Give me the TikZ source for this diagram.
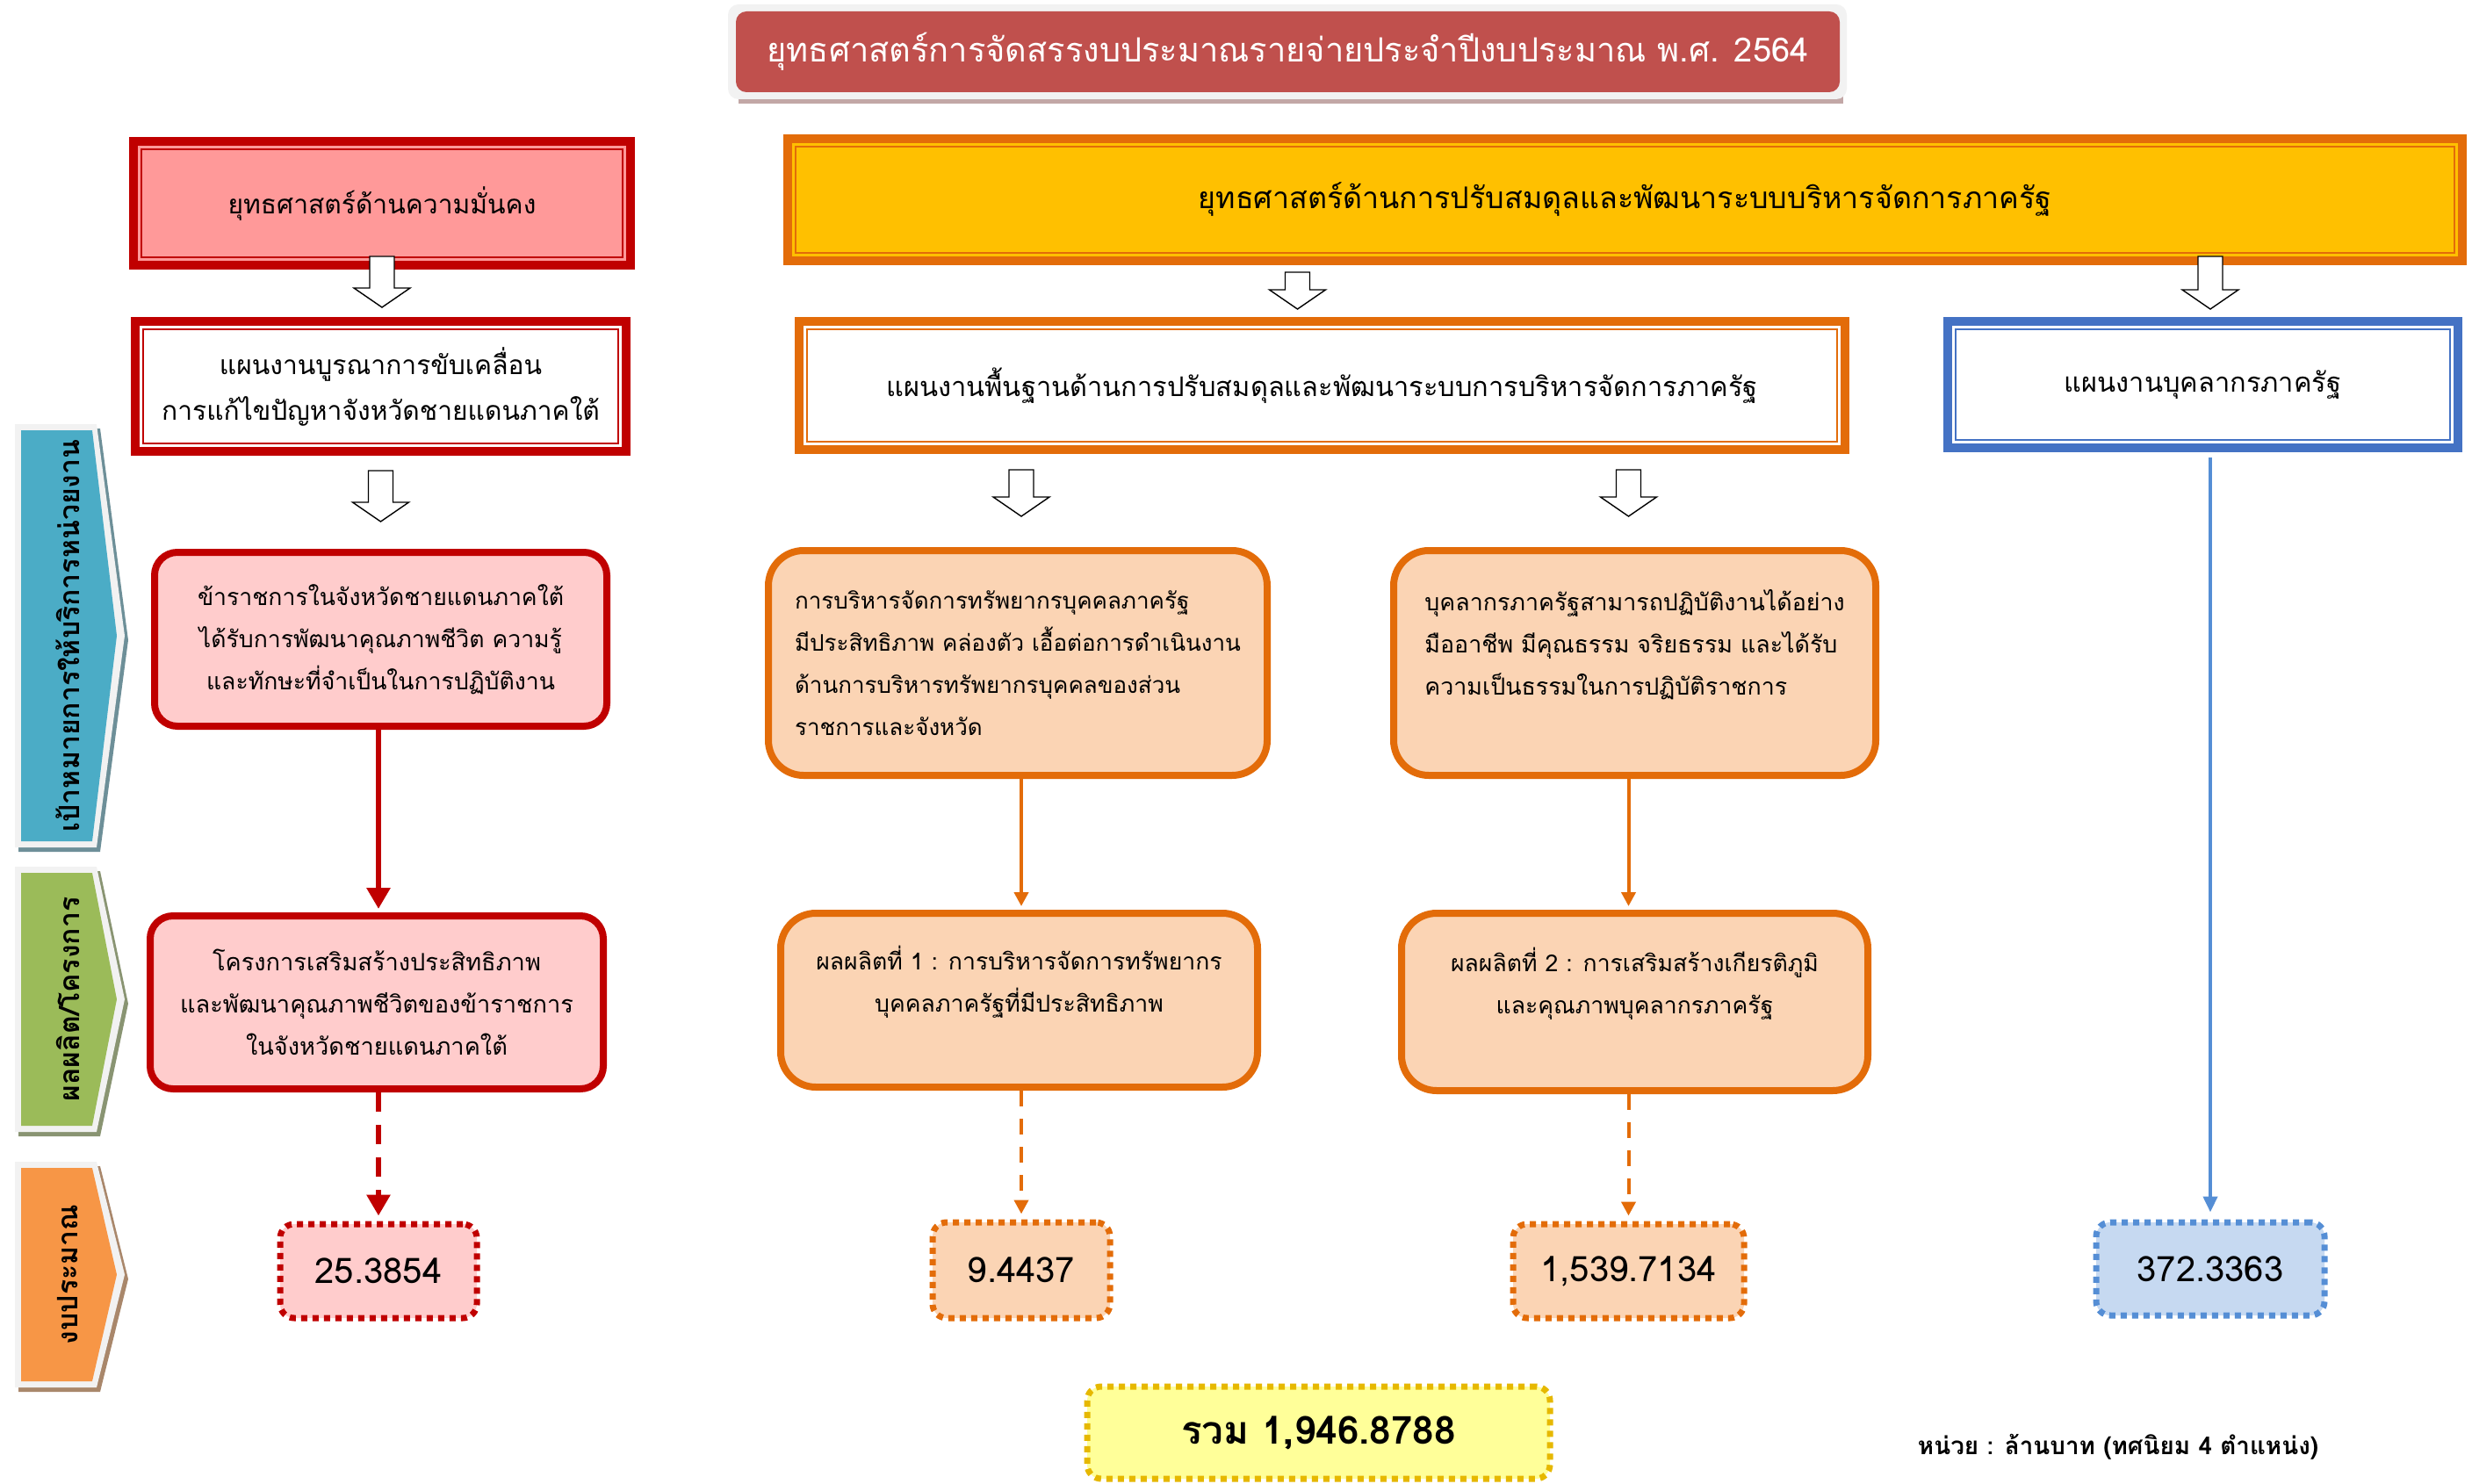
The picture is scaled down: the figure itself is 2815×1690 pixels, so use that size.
\documentclass[tikz,border=0pt]{standalone}
\usepackage{fontspec}
\setmainfont[Script=Thai]{Loma}
\usetikzlibrary{arrows.meta,calc}
\definecolor{titlered}{HTML}{C0504D}
\definecolor{dred}{HTML}{C00000}
\definecolor{secfill}{HTML}{FF9999}
\definecolor{pinkfill}{HTML}{FFCCCC}
\definecolor{hdryel}{HTML}{FFC000}
\definecolor{dorange}{HTML}{E36C09}
\definecolor{peach}{HTML}{FBD4B4}
\definecolor{dblue}{HTML}{4472C4}
\definecolor{lblue}{HTML}{558ED5}
\definecolor{bluefill}{HTML}{C6D9F1}
\definecolor{totfill}{HTML}{FFFF99}
\definecolor{totborder}{HTML}{E6B800}
\definecolor{chevblue}{HTML}{4BACC6}
\definecolor{chevgreen}{HTML}{9BBB59}
\definecolor{chevorange}{HTML}{F79646}
\definecolor{framegray}{HTML}{F2F2F2}
\tikzset{
  dblbox/.style={draw=#1, line width=5pt,
    path picture={\draw[#1, line width=1pt] ([shift={(4.5pt,4.5pt)}]path picture bounding box.south west) rectangle ([shift={(-4.5pt,-4.5pt)}]path picture bounding box.north east);}},
  plantext/.style={font=\fontsize{15}{26}\selectfont, align=center},
  rbox/.style={draw=dred, line width=4pt, fill=pinkfill, rounded corners=13pt, align=center, font=\fontsize{13.3}{24}\selectfont},
  obox/.style={draw=dorange, line width=4pt, fill=peach, rounded corners=20pt, font=\fontsize{13.3}{24}\selectfont},
  budget/.style={line width=3.5pt, dash pattern=on 3.5pt off 3pt, rounded corners=8pt, font=\fontsize{20}{22}\selectfont},
  hollowarr/.style={draw=black, line width=0.7pt, fill=white},
  redarr/.style={draw=dred, line width=3pt, -{Triangle[length=12pt,width=13pt]}},
  orarr/.style={draw=dorange, line width=2pt, -{Triangle[length=8pt,width=8pt]}},
  bluearr/.style={draw=lblue, line width=2pt, -{Triangle[length=9pt,width=8pt]}},
}
\newcommand\blockarr[2]{\path[hollowarr] let \p1=#1, \p2=#2 in
  (\x1-7pt,\y1) -- (\x1+7pt,\y1) -- (\x1+7pt,\y2+11pt) -- (\x1+16pt,\y2+11pt) -- (\x1,\y2) -- (\x1-16pt,\y2+11pt) -- (\x1-7pt,\y2+11pt) -- cycle;}
\newcommand\chev[5]{%
  \fill[#3!35!gray] (21,{#1-2}) -- (114,{#1-2}) -- (146,{(#1+#2)/2+5}) -- (114,{#2+12}) -- (21,{#2+12}) -- cycle;
  \fill[framegray] (17,{#1-7}) -- (110,{#1-7}) -- (142,{(#1+#2)/2}) -- (110,{#2+7}) -- (17,{#2+7}) -- cycle;
  \fill[#3] (24,#1) -- (105,#1) -- (133,{(#1+#2)/2}) -- (105,#2) -- (24,#2) -- cycle;
  \node[rotate=90, font=\bfseries\fontsize{16}{18}\selectfont] (#4) at (77,{(#1+#2)/2}) {#5};}
\begin{document}
\begin{tikzpicture}[x=0.5pt,y=-0.5pt]
\useasboundingbox[fill=white] (0,0) rectangle (2815,1690);
% title
\fill[gray!60!titlered!60] (841,13) rectangle (2099,118);
\fill[framegray, rounded corners=6pt] (829,5) rectangle (2103,113);
\node[fill=titlered, rounded corners=6pt, minimum width=628.5pt, minimum height=46pt,
  text=white, font=\fontsize{19}{22}\selectfont] (title) at (1466.5,59)
  {ยุทธศาสตร์การจัดสรรงบประมาณรายจ่ายประจำปีงบประมาณ พ.ศ. 2564};
% side chevrons
\chev{490}{958}{chevblue}{lblgoal}{เป้าหมายการให้บริการหน่วยงาน}
\chev{994}{1282}{chevgreen}{lblprod}{ผลผลิต/โครงการ}
\chev{1330}{1573}{chevorange}{lblbud}{งบประมาณ}
% strategies and plans
\node[dblbox=dred, fill=secfill, minimum width=283pt, minimum height=70.5pt, plantext] (sec) at (435,231.5) {ยุทธศาสตร์ด้านความมั่นคง};
\node[dblbox=dred, fill=white, minimum width=279.5pt, minimum height=74pt, plantext] (plan1) at (433.5,440) {แผนงานบูรณาการขับเคลื่อน\\การแก้ไขปัญหาจังหวัดชายแดนภาคใต้};
\node[dblbox=dorange, fill=hdryel, minimum width=953.5pt, minimum height=69.5pt, plantext, font=\fontsize{17}{20}\selectfont] (hdr) at (1850.5,227.5) {ยุทธศาสตร์ด้านการปรับสมดุลและพัฒนาระบบบริหารจัดการภาครัฐ};
\node[dblbox=dorange, fill=white, minimum width=595.5pt, minimum height=73pt, plantext, font=\fontsize{15.4}{20}\selectfont] (plan2) at (1505.5,439) {แผนงานพื้นฐานด้านการปรับสมดุลและพัฒนาระบบการบริหารจัดการภาครัฐ};
\node[dblbox=dblue, fill=white, minimum width=290.5pt, minimum height=72pt, plantext, font=\fontsize{15.4}{20}\selectfont] (planb) at (2508.5,438) {แผนงานบุคลากรภาครัฐ};
% goals
\node[rbox, minimum width=257.5pt, minimum height=99pt] (goal1) at (433.5,728) {ข้าราชการในจังหวัดชายแดนภาคใต้\\ได้รับการพัฒนาคุณภาพชีวิต ความรู้\\และทักษะที่จำเป็นในการปฏิบัติงาน};
\node[obox, align=left, minimum width=284pt, minimum height=128pt, font=\fontsize{13}{24}\selectfont] (goal2) at (1159,755) {การบริหารจัดการทรัพยากรบุคคลภาครัฐ\\มีประสิทธิภาพ คล่องตัว เอื้อต่อการดำเนินงาน\\ด้านการบริหารทรัพยากรบุคคลของส่วน\\ราชการและจังหวัด};
\node[obox, align=left, minimum width=274.5pt, minimum height=128pt, font=\fontsize{13.4}{24}\selectfont] (goal3) at (1861.5,755) {บุคลากรภาครัฐสามารถปฏิบัติงานได้อย่าง\\มืออาชีพ มีคุณธรรม จริยธรรม และได้รับ\\ความเป็นธรรมในการปฏิบัติราชการ\\\mbox{}};
% products
\node[rbox, minimum width=258pt, minimum height=98.5pt, font=\fontsize{13.6}{24}\selectfont] (prod1) at (429,1141.5) {โครงการเสริมสร้างประสิทธิภาพ\\และพัฒนาคุณภาพชีวิตของข้าราชการ\\ในจังหวัดชายแดนภาคใต้};
\node[obox, align=center, minimum width=271.5pt, minimum height=99pt] (prod2) at (1160.5,1139) {ผลผลิตที่ 1 : การบริหารจัดการทรัพยากร\\บุคคลภาครัฐที่มีประสิทธิภาพ\\\mbox{}};
\node[obox, align=center, minimum width=265.5pt, minimum height=101pt] (prod3) at (1861.5,1141) {ผลผลิตที่ 2 : การเสริมสร้างเกียรติภูมิ\\และคุณภาพบุคลากรภาครัฐ\\\mbox{}};
% budgets
\node[budget, draw=dred, fill=pinkfill, minimum width=112pt, minimum height=53.5pt] (b1) at (431,1447.5) {25.3854};
\node[budget, draw=dorange, fill=peach, minimum width=101pt, minimum height=54.5pt] (b2) at (1163,1446.5) {9.4437};
\node[budget, draw=dorange, fill=peach, minimum width=131.5pt, minimum height=53.5pt] (b3) at (1854.5,1447.5) {1,539.7134};
\node[budget, draw=lblue, fill=bluefill, minimum width=130pt, minimum height=53pt] (b4) at (2517,1445) {372.3363};
\node[budget, draw=totborder, fill=totfill, minimum width=263.5pt, minimum height=52.5pt, font=\bfseries\fontsize{22}{24}\selectfont] (total) at (1501.5,1631.5) {รวม 1,946.8788};
\node[font=\bfseries\fontsize{13.9}{15}\selectfont] (unit) at (2412,1648) {หน่วย : ล้านบาท (ทศนิยม 4 ตำแหน่ง)};
% block arrows
\blockarr{($(sec.south)+(0,7.5pt)$)}{($(plan1.north)+(0,5.5pt)$)}
\blockarr{($(plan1.south)+(0,-8.5pt)$)}{($(goal1.north)+(0,15.5pt)$)}
\blockarr{($(hdr.south -| plan2.north)+(-14pt,-4pt)$)}{($(plan2.north)+(-14pt,4.5pt)$)}
\blockarr{($(hdr.south -| b4.north)+(0,5pt)$)}{($(planb.north -| b4.north)+(0,4.5pt)$)}
\blockarr{($(plan2.south -| b2.north)+(0,-9pt)$)}{($(goal2.north -| b2.north)+(0,17.5pt)$)}
\blockarr{($(plan2.south -| b3.north)+(0,-9pt)$)}{($(goal3.north -| b3.north)+(0,17.5pt)$)}
% connectors
\draw[redarr] (goal1.south -| b1.north) -- ($(prod1.north -| b1.north)+(0,2pt)$);
\draw[redarr, dash pattern=on 11pt off 7.5pt] (prod1.south -| b1.north) -- ($(b1.north)+(0,3pt)$);
\draw[orarr] (goal2.south -| b2.north) -- ($(prod2.north -| b2.north)+(0,2pt)$);
\draw[orarr, dash pattern=on 9pt off 7pt] (prod2.south -| b2.north) -- ($(b2.north)+(0,3pt)$);
\draw[orarr] (goal3.south -| b3.north) -- ($(prod3.north -| b3.north)+(0,2pt)$);
\draw[orarr, dash pattern=on 9pt off 7pt] (prod3.south -| b3.north) -- ($(b3.north)+(0,3pt)$);
\draw[bluearr] ($(planb.south -| b4.north)+(0,-3pt)$) -- ($(b4.north)+(0,4pt)$);
\end{tikzpicture}
\end{document}
